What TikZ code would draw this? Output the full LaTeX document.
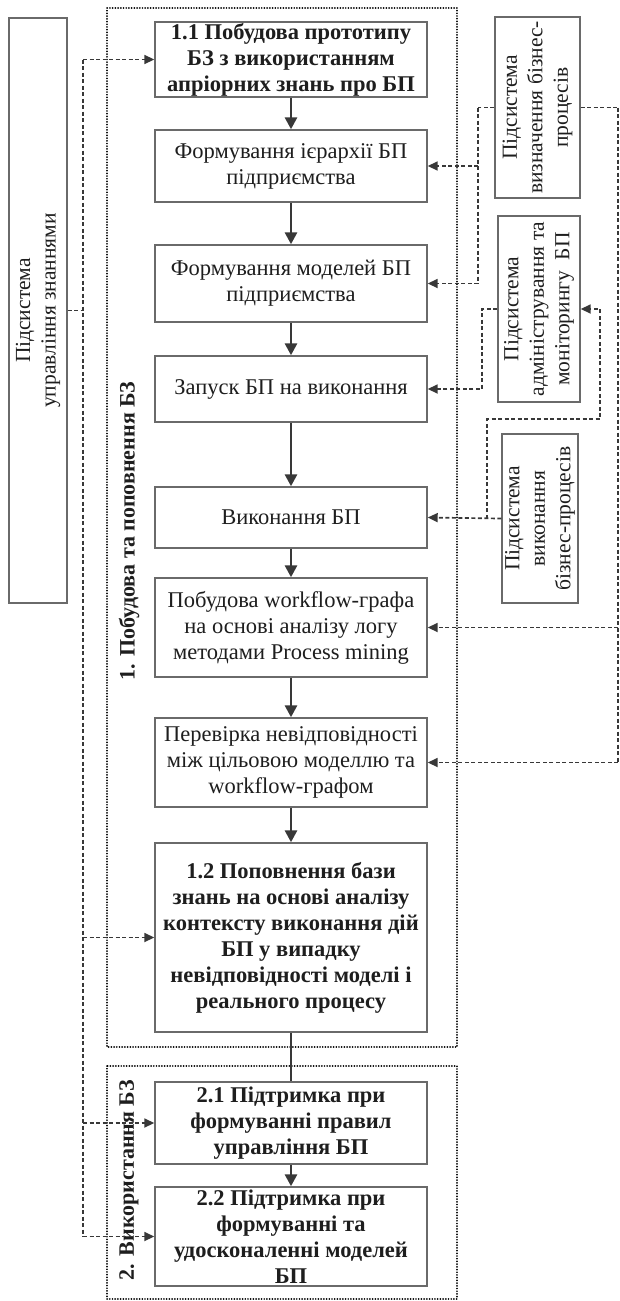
\documentclass[tikz,border=0pt]{standalone}
\usepackage{fontspec}
\setmainfont{Liberation Serif}
\usetikzlibrary{arrows.meta}
\definecolor{boxgray}{HTML}{6A6A6A}
\definecolor{lineg}{HTML}{383838}
\definecolor{txt}{HTML}{1E1E1E}
\begin{document}
\begin{tikzpicture}[x=1pt,y=-1pt,
  txtf/.style={font=\fontsize{22.5}{26}\selectfont, text=txt},
  mbox/.style={draw=boxgray, line width=1.4pt, fill=white, minimum width=272pt, align=center, inner sep=1pt, txtf},
  bbox/.style={mbox, font=\fontsize{22.5}{26}\selectfont\bfseries},
  sbox/.style={draw=boxgray, line width=1.4pt, align=center, rotate=90, inner sep=0pt, font=\fontsize{21.5}{25.5}\selectfont, text=txt},
  frame/.style={draw=black, line width=1.9pt, dash pattern=on 0.01pt off 2.7pt, line cap=round},
  dline/.style={draw=lineg, line width=1.7pt, dash pattern=on 4pt off 2.5pt},
  darrow/.style={dline, -{Triangle[length=10pt,width=9pt]}},
  sarrow/.style={draw=lineg, line width=2.8pt, -{Triangle[length=12pt,width=12pt]}},
  sline/.style={draw=lineg, line width=2.8pt},
  flabel/.style={rotate=90, font=\fontsize{22}{26}\selectfont\bfseries, text=txt}
]
\useasboundingbox (0,0) rectangle (620,1301);
% frames
\draw[frame] (107,8) rectangle (457,1047);
\draw[frame] (107,1066) rectangle (457,1299);
\node[flabel] (fl1) at (129,531) {1. Побудова та поповнення БЗ};
\node[flabel] (fl2) at (129,1180) {2. Використання БЗ};
% main boxes
\node[bbox, minimum height=75pt] (b1) at (291,59.5) {1.1 Побудова прототипу\\БЗ з використанням\\апріорних знань про БП};
\node[mbox, minimum height=72pt] (b2) at (291,166) {Формування ієрархії БП\\підприємства};
\node[mbox, minimum height=77pt] (b3) at (291,283.5) {Формування моделей БП\\підприємства};
\node[mbox, minimum height=66pt] (b4) at (291,389) {Запуск БП на виконання};
\node[mbox, minimum height=61pt] (b5) at (291,517.5) {Виконання БП};
\node[mbox, minimum height=99pt] (b6) at (291,627.5) {Побудова workflow-графа\\на основі аналізу логу\\методами Process mining};
\node[mbox, minimum height=89pt] (b7) at (291,762.5) {Перевірка невідповідності\\між цільовою моделлю та\\workflow-графом};
\node[bbox, minimum height=189pt] (b8) at (291,937.5) {1.2 Поповнення бази\\знань на основі аналізу\\контексту виконання дій\\БП у випадку\\невідповідності моделі і\\реального процесу};
\node[bbox, minimum height=82pt] (b9) at (291,1123) {2.1 Підтримка при\\формуванні правил\\управління БП};
\node[bbox, minimum height=99pt] (b10) at (291,1236.5) {2.2 Підтримка при\\формуванні та\\удосконаленні моделей\\БП};
% side boxes (rotated: north = left side, south = right side)
\node[sbox, minimum width=585pt, minimum height=58pt] (lb) at (38,310.5) {Підсистема\\управління знаннями};
\node[sbox, minimum width=181pt, minimum height=85pt] (r1) at (537.5,107.5) {Підсистема\\визначення бізнес-\\процесів};
\node[sbox, minimum width=186pt, minimum height=82pt] (r2) at (539,309) {Підсистема\\адміністрування та\\моніторингу~~БП};
\node[sbox, minimum width=169pt, minimum height=76pt] (r3) at (540,518.5) {Підсистема\\виконання\\бізнес-процесів};
% solid flow
\draw[sarrow] (b1.south) -- (b2.north);
\draw[sarrow] (b2.south) -- (b3.north);
\draw[sarrow] (b3.south) -- (b4.north);
\draw[sarrow] (b4.south) -- (b5.north);
\draw[sarrow] (b5.south) -- (b6.north);
\draw[sarrow] (b6.south) -- (b7.north);
\draw[sarrow] (b7.south) -- (b8.north);
\draw[sline] (b8.south) -- (b9.north);
\draw[sarrow] (b9.south) -- (b10.north);
% knowledge management connectors
\draw[dline] (lb.south) -- (83,310.5) coordinate (jl);
\draw[dline] (jl |- b1.west) -- (jl |- b10.west);
\draw[darrow] (jl |- b1.west) -- (b1.west);
\draw[darrow] (jl |- b8.west) -- (b8.west);
\draw[darrow] (jl |- b9.west) -- (b9.west);
\draw[darrow] (jl |- b10.west) -- (b10.west);
% R1 left
\draw[dline] (r1.north) -- (478,107.5) coordinate (j1);
\draw[dline] (j1) -- (j1 |- b3.east);
\draw[darrow] (j1 |- b2.east) -- (b2.east);
\draw[darrow] (j1 |- b3.east) -- (b3.east);
% R1 right
\draw[dline] (r1.south) -- (618,107.5) coordinate (j2);
\draw[dline] (j2) -- (j2 |- b7.east);
\draw[darrow] (j2 |- b6.east) -- (b6.east);
\draw[darrow] (j2 |- b7.east) -- (b7.east);
% R2
\draw[darrow] (r2.north) -- (482,309) coordinate (j3) |- (b4.east);
% R3
\draw[darrow] (r3.north) -- (b5.east);
\coordinate (j4) at (487,518.5);
\coordinate (j5) at (600,419);
\draw[darrow] (j4) |- (j5) |- (r2.south);
\end{tikzpicture}
\end{document}
